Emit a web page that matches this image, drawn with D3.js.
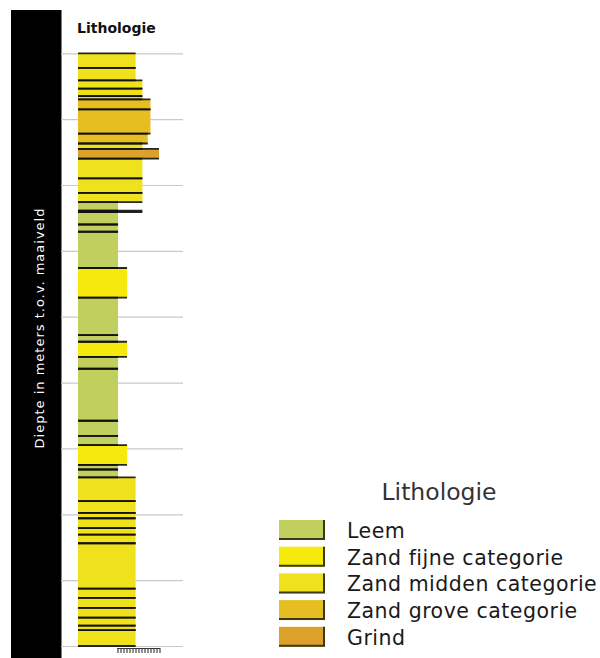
<!DOCTYPE html>
<html>
<head>
<meta charset="utf-8">
<script src="https://cdn.jsdelivr.net/npm/d3@7"></script>
<style>
  body { margin: 0; background: #fff; }
  svg { display: block; }
</style>
</head>
<body>
<svg id="chart" width="600" height="658"></svg>
<script>
'use strict';

// boorprofiel: lagen van boven naar beneden (diepte in m t.o.v. maaiveld)
var diepteVan = [0.00, 0.22, 0.41, 0.535, 0.65, 0.70, 0.85, 1.22, 1.37, 1.45,
                 1.60, 1.90, 2.12, 2.26, 2.39, 2.41, 2.60, 2.71, 3.26, 3.71,
                 4.28, 4.38, 4.61, 4.79, 5.58, 5.81, 5.95, 6.25, 6.32, 6.44,
                 6.80, 6.98, 7.06, 7.21, 7.31, 7.44, 8.13, 8.27, 8.42, 8.57,
                 8.69, 8.76];
var diepteTot = [0.22, 0.41, 0.535, 0.65, 0.70, 0.85, 1.22, 1.37, 1.45, 1.60,
                 1.90, 2.12, 2.26, 2.39, 2.41, 2.60, 2.71, 3.26, 3.71, 4.28,
                 4.38, 4.61, 4.79, 5.58, 5.81, 5.95, 6.25, 6.32, 6.44, 6.80,
                 6.98, 7.06, 7.21, 7.31, 7.44, 8.13, 8.27, 8.42, 8.57, 8.69,
                 8.76, 9.00];
var laagSoort = ['midden', 'midden', 'midden', 'midden', 'midden', 'grove', 'grove', 'grove', 'midden', 'grind',
                 'midden', 'midden', 'midden', 'leem', 'midden', 'leem', 'leem', 'leem', 'fijn', 'leem',
                 'leem', 'fijn', 'leem', 'leem', 'leem', 'leem', 'fijn', 'leem', 'leem', 'midden',
                 'midden', 'midden', 'midden', 'midden', 'midden', 'midden', 'midden', 'midden', 'midden', 'midden',
                 'midden', 'midden'];
// korrelgrootte-index, bepaalt de breedte van de laag
var laagKorrel = [6.4, 6.4, 7.15, 7.15, 7.15, 8.05, 8.05, 7.75, 7.15, 9.0,
                  7.15, 7.15, 7.15, 4.45, 7.15, 4.45, 4.45, 4.45, 5.45, 4.45,
                  4.45, 5.45, 4.45, 4.45, 4.45, 4.45, 5.45, 4.45, 4.45, 6.4,
                  6.4, 6.4, 6.4, 6.4, 6.4, 6.4, 6.4, 6.4, 6.4, 6.4,
                  6.4, 6.4];

var legendaCodes  = ['leem', 'fijn', 'midden', 'grove', 'grind'];
var legendaLabels = ['Leem', 'Zand fijne categorie', 'Zand midden categorie', 'Zand grove categorie', 'Grind'];
var legendaKleur  = ['#c1cf5e', '#f5ea0c', '#efe11b', '#e6be22', '#dba12b'];
var diepteTicks   = [0, 1, 2, 3, 4, 5, 6, 7, 8, 9];

var kleur = d3.scaleOrdinal().domain(legendaCodes).range(legendaKleur);

var lagen = diepteVan.map(function (v, i) {
  return { van: v, tot: diepteTot[i], soort: laagSoort[i], korrel: laagKorrel[i] };
});

var svg = d3.select('#chart');

var y = d3.scaleLinear().domain([0, 9]).range([53.3, 646]);
var x = d3.scaleLinear().domain([0, 10]).range([78, 168]);

// zwarte balk met as-titel
svg.append('rect')
  .attr('x', 11).attr('y', 10)
  .attr('width', 50.5).attr('height', 648)
  .attr('fill', '#000');

svg.append('text')
  .attr('transform', 'translate(44,328) rotate(-90)')
  .attr('text-anchor', 'middle')
  .attr('fill', '#fff')
  .style('font-family', 'DejaVu Sans')
  .style('font-size', '13px')
  .style('letter-spacing', '1px')
  .text('Diepte in meters t.o.v. maaiveld');

svg.append('text')
  .attr('x', 77).attr('y', 33)
  .style('font-family', 'DejaVu Sans')
  .style('font-weight', 'bold')
  .style('font-size', '14px')
  .attr('fill', '#111')
  .text('Lithologie');

// rasterlijnen
var grid = svg.append('g')
  .attr('transform', 'translate(61,0)')
  .call(d3.axisLeft(y).tickValues(diepteTicks).tickSize(-122).tickFormat(''));
grid.select('.domain').remove();
grid.selectAll('.tick line').attr('stroke', '#c9c9c9').attr('stroke-width', 1.2);

// lagen
var kolom = svg.append('g');

kolom.selectAll('rect.laag')
  .data(lagen)
  .enter().append('rect')
  .attr('class', 'laag')
  .attr('x', x(0))
  .attr('y', function (d) { return y(d.van); })
  .attr('width', function (d) { return x(d.korrel) - x(0); })
  .attr('height', function (d) { return y(d.tot) - y(d.van); })
  .attr('fill', function (d) { return kleur(d.soort); });

var grenzen = [];
lagen.forEach(function (d) {
  grenzen.push({ diepte: d.van, korrel: d.korrel });
  grenzen.push({ diepte: d.tot, korrel: d.korrel });
});

kolom.selectAll('line.grens')
  .data(grenzen)
  .enter().append('line')
  .attr('class', 'grens')
  .attr('x1', x(0))
  .attr('x2', function (d) { return x(d.korrel); })
  .attr('y1', function (d) { return y(d.diepte); })
  .attr('y2', function (d) { return y(d.diepte); })
  .attr('stroke', '#111')
  .attr('stroke-opacity', 0.9)
  .attr('stroke-width', 1.8);

// einde boring
var eind = svg.append('g').attr('transform', 'translate(0,' + (y(9) + 2) + ')');
eind.append('line')
  .attr('x1', 117).attr('x2', 160).attr('y1', 0.5).attr('y2', 0.5)
  .attr('stroke', '#333').attr('stroke-width', 1);
eind.selectAll('line.streep')
  .data(d3.range(118, 161, 3))
  .enter().append('line')
  .attr('class', 'streep')
  .attr('x1', function (d) { return d; }).attr('x2', function (d) { return d; })
  .attr('y1', 0).attr('y2', 5)
  .attr('stroke', '#444').attr('stroke-width', 1.2);

// legenda
var legenda = svg.append('g');

legenda.append('text')
  .attr('x', 439).attr('y', 500)
  .attr('text-anchor', 'middle')
  .attr('fill', '#333')
  .style('font-family', 'DejaVu Sans')
  .style('font-size', '23.5px')
  .text('Lithologie');

var item = legenda.selectAll('g.item')
  .data(legendaCodes)
  .enter().append('g')
  .attr('class', 'item')
  .attr('transform', function (d, i) { return 'translate(279,' + (520 + i * 26.7) + ')'; });

item.append('rect')
  .attr('width', 46).attr('height', 20)
  .attr('fill', function (d) { return kleur(d); });
item.append('path')
  .attr('d', 'M0,19 H45 V0')
  .attr('fill', 'none')
  .attr('stroke', '#3a3a1a')
  .attr('stroke-width', 2);

item.append('text')
  .attr('x', 68).attr('y', 18)
  .attr('fill', '#1a1a1a')
  .style('font-family', 'DejaVu Sans')
  .style('font-size', '20.5px')
  .style('letter-spacing', '0.5px')
  .text(function (d, i) { return legendaLabels[i]; });
</script>
</body>
</html>
